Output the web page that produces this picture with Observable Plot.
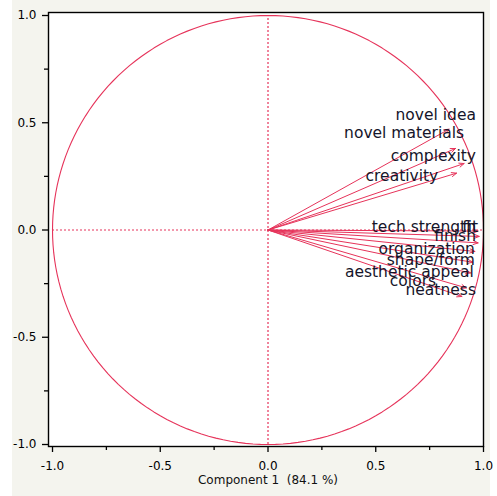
<!DOCTYPE html>
<html>
<head>
<meta charset="utf-8">
<script src="https://cdn.jsdelivr.net/npm/d3@7"></script>
<script src="https://cdn.jsdelivr.net/npm/@observablehq/plot@0.6"></script>
<style>
  html, body { margin: 0; padding: 0; background: white; }
  #chart svg { display: block; }
</style>
</head>
<body>
<div id="chart"></div>
<script>
// Variables (loading vectors)
const variables = ["novel idea", "novel materials", "complexity", "creativity",
  "tech strength", "fit", "finish", "organization", "shape/form",
  "aesthetic appeal", "colors", "neatness"];
// Loadings on component 1 and component 2
const load1 = [0.84, 0.87, 0.91, 0.875, 0.975, 0.98, 0.975, 0.96, 0.95, 0.94, 0.92, 0.90];
const load2 = [0.47, 0.38, 0.31, 0.265, -0.005, -0.03, -0.06, -0.10, -0.15, -0.20, -0.27, -0.31];
// Label anchor points (right end, vertical centre), in data units
const labelX = [0.965, 0.91, 0.965, 0.79, 0.965, 0.975, 0.965, 0.96, 0.96, 0.955, 0.78, 0.965];
const labelY = [0.534, 0.45, 0.347, 0.25, 0.016, 0.016, -0.03, -0.09, -0.14, -0.194, -0.24, -0.28];
const majorTicks = [-1, -0.5, 0, 0.5, 1];
const minorTicks = [-0.75, -0.25, 0.25, 0.75];
const xLabel = "Component 1 \u00a0(84.1 %)";

const vectors = variables.map((v, i) => ({name: v, x: load1[i], y: load2[i], lx: labelX[i], ly: labelY[i]}));
const circle = d3.range(0, 361, 2).map(a => ({x: Math.cos(a * Math.PI / 180), y: Math.sin(a * Math.PI / 180)}));

const red = "#e6335a";
const font = "DejaVu Sans";
const fmt = d => d.toFixed(1);

const chart = Plot.plot({
  width: 497,
  height: 496,
  marginLeft: 48,
  marginRight: 14,
  marginTop: 12,
  marginBottom: 50,
  x: {domain: [-1.0186, 1.0]},
  y: {domain: [-1.0093, 1.014]},
  style: {fontFamily: font, fontSize: "12px", color: "black",
    background: "linear-gradient(to right, white 12px, #f4f4ee 12px, #f4f4ee 490px, white 490px)"},
  marks: [
    Plot.frame({fill: "white"}),
    Plot.ruleX([0], {y1: -1, y2: 1, stroke: red, strokeDasharray: "2,2", strokeWidth: 1.2}),
    Plot.ruleY([0], {x1: -1, x2: 1, stroke: red, strokeDasharray: "2,2", strokeWidth: 1.2}),
    Plot.line(circle, {x: "x", y: "y", stroke: red, strokeWidth: 1.1}),
    Plot.arrow(vectors, {x1: () => 0, y1: () => 0, x2: "x", y2: "y", stroke: red, strokeWidth: 1, headLength: 8, headAngle: 45}),
    Plot.text(vectors, {x: "lx", y: "ly", text: "name", textAnchor: "end", fill: "#15152a", fontSize: 15.5, fontFamily: font}),
    Plot.frame({stroke: "black", strokeWidth: 1.4}),
    Plot.axisX(majorTicks, {tickSize: 6, tickPadding: 9, tickFormat: fmt, fontSize: 12, label: null, strokeWidth: 1.3}),
    Plot.axisX(minorTicks, {tickSize: 4, text: null, label: null, strokeWidth: 1.3}),
    Plot.axisY(majorTicks, {tickSize: 6, tickPadding: 6, tickFormat: fmt, fontSize: 12, label: null, strokeWidth: 1.3}),
    Plot.axisY(minorTicks, {tickSize: 4, text: null, label: null, strokeWidth: 1.3}),
    Plot.text([0], {x: d => d, text: () => xLabel, frameAnchor: "bottom", dy: 37, fontSize: 12, fill: "#111"})
  ]
});
document.getElementById("chart").appendChild(chart);
</script>
</body>
</html>
